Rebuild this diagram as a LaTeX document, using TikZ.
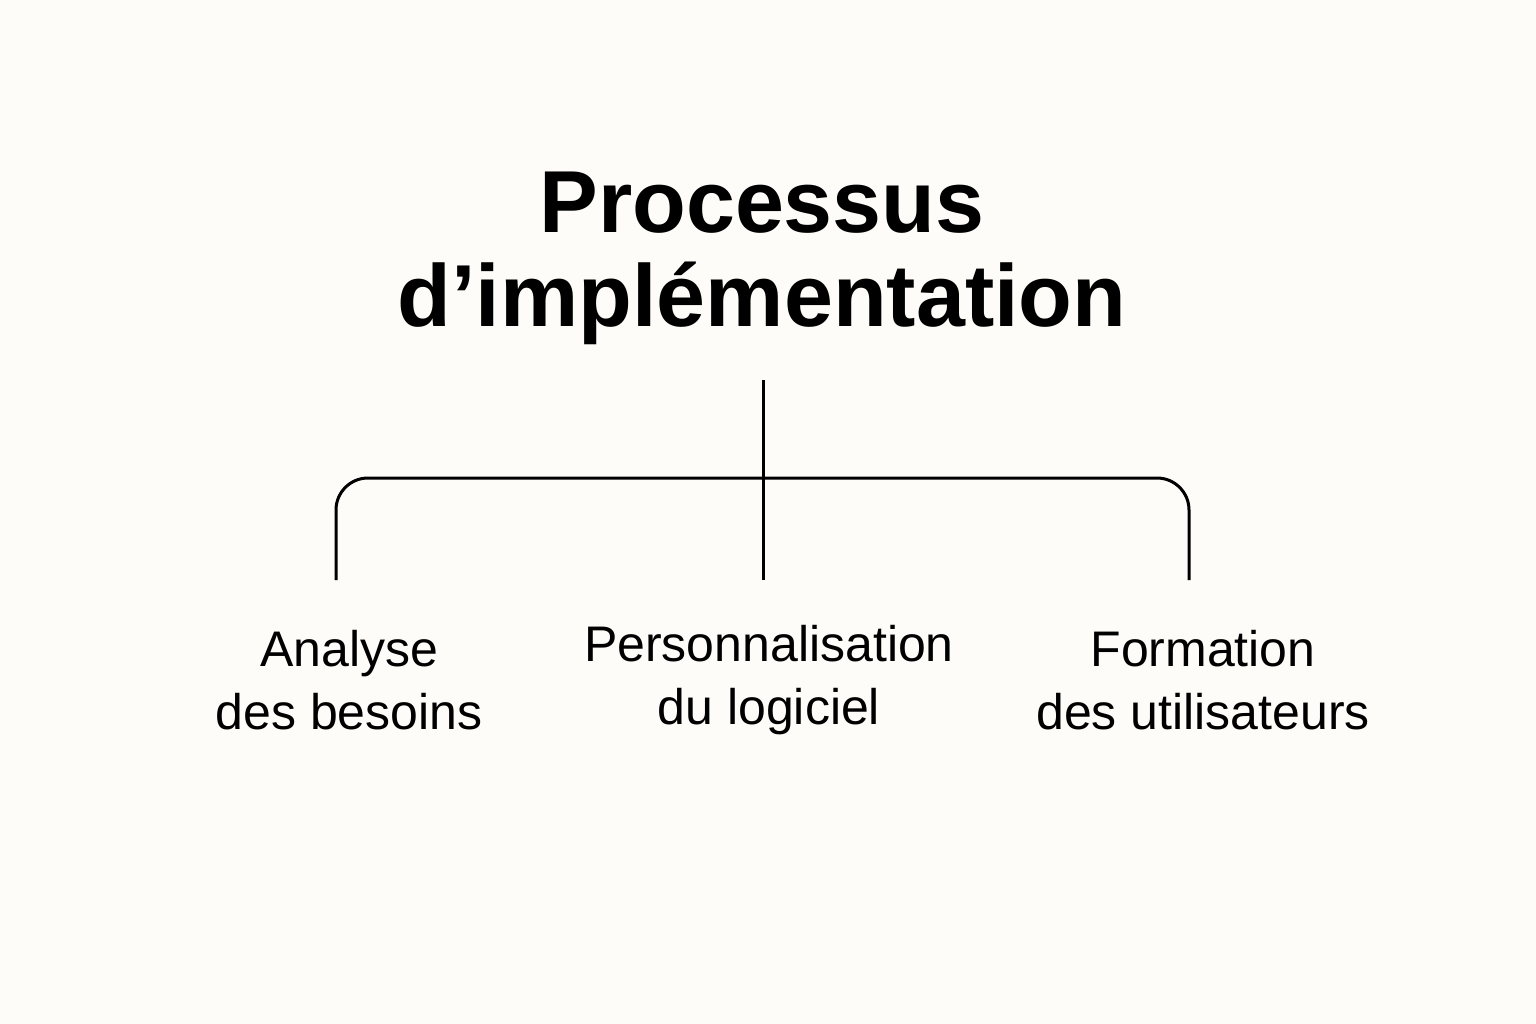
\documentclass[tikz,border=0pt]{standalone}
\usepackage{fontspec}
\setmainfont{Liberation Sans}
\begin{document}
\begin{tikzpicture}[x=1pt,y=-1pt,
  ln/.style={line width=3pt,black},
  lbl/.style={font=\fontsize{50}{63}\selectfont,align=center,inner sep=0pt}]
\fill[fill={rgb,255:red,253;green,252;blue,249}] (0,0) rectangle (1536,1024);
\useasboundingbox (0,0) rectangle (1536,1024);
\node[font=\bfseries\fontsize{88}{94}\selectfont,align=center,inner sep=0pt] (title) at (762,258) {Processus\\d’implémentation};
\coordinate (top) at (763,380);
\coordinate (mid) at (763,580);
\coordinate (l) at (336,580);
\coordinate (r) at (1189,580);
\draw[ln] (top) -- (mid);
\draw[ln,rounded corners=32pt] (l) -- (336,478) -- (1189,478) -- (r);
\node[lbl] (a) at (349,680) {Analyse\\des besoins};
\node[lbl] (b) at (769,680) {Personnalisation\\du logiciel};
\node[lbl] (c) at (1203,680) {Formation\\des utilisateurs};
\end{tikzpicture}
\end{document}
